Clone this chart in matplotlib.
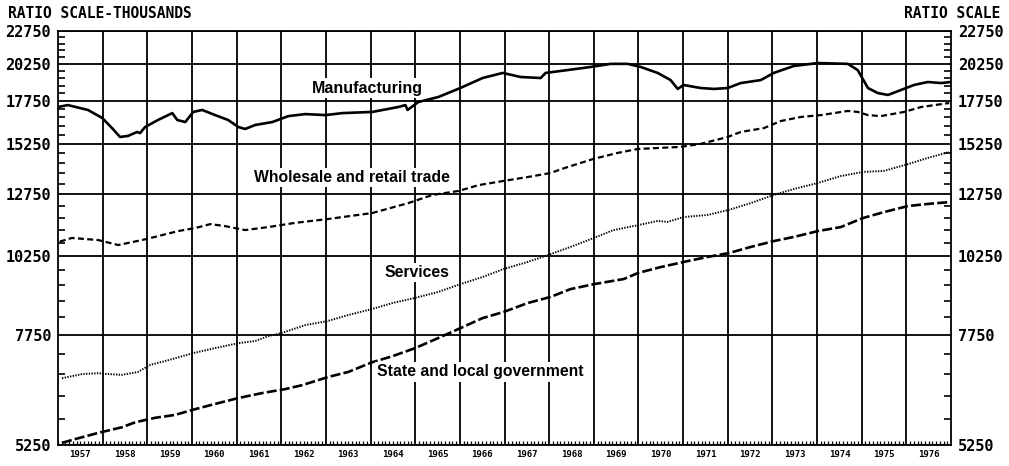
#Employment by industry, ratio scale, 1957-1976
import numpy as np
import matplotlib
matplotlib.use("Agg")
import matplotlib.pyplot as plt
from matplotlib.ticker import FixedLocator, FixedFormatter, NullFormatter

#Data (year, value)
mfg_years = [1957.04, 1957.22, 1957.67, 1957.99, 1958.21, 1958.39, 1958.57, 1958.77, 1958.84, 1958.95,
             1959.24, 1959.56, 1959.67, 1959.85, 1960.03, 1960.23, 1960.52, 1960.81, 1961.04, 1961.19,
             1961.42, 1961.80, 1962.16, 1962.54, 1962.99, 1963.37, 1964.04, 1964.62, 1964.78, 1964.83,
             1965.07, 1965.52, 1966.01, 1966.51, 1966.96, 1967.36, 1967.81, 1967.92, 1968.41, 1968.93,
             1969.38, 1969.76, 1970.05, 1970.43, 1970.72, 1970.88, 1971.01, 1971.39, 1971.69, 1972.00,
             1972.29, 1972.74, 1973.03, 1973.48, 1974.02, 1974.69, 1974.91, 1975.14, 1975.36, 1975.59,
             1975.88, 1976.17, 1976.48, 1976.78, 1977.00]
mfg_vals = [17400, 17500, 17200, 16720, 16130, 15630, 15690, 15910, 15850, 16190,
            16600, 17010, 16600, 16480, 17080, 17200, 16890, 16600, 16190, 16080,
            16310, 16480, 16830, 16950, 16890, 17010, 17080, 17380, 17500, 17200,
            17690, 18010, 18590, 19260, 19610, 19330, 19260, 19610, 19810, 20030,
            20250, 20250, 20030, 19610, 19120, 18530, 18790, 18590, 18530, 18590,
            18920, 19120, 19610, 20100, 20310, 20250, 19810, 18590, 18260, 18140,
            18460, 18790, 18990, 18920, 18990]

trade_years = [1957.04, 1957.31, 1957.90, 1958.35, 1958.88, 1959.17, 1959.69, 1960.07, 1960.41, 1960.74,
               1961.19, 1961.71, 1962.31, 1963.05, 1964.04, 1964.85, 1965.39, 1965.97, 1966.42, 1966.96,
               1967.65, 1968.03, 1968.41, 1968.99, 1969.53, 1969.98, 1970.94, 1971.39, 1972.00, 1972.29,
               1972.81, 1973.19, 1973.64, 1974.09, 1974.69, 1974.91, 1975.14, 1975.43, 1975.95, 1976.33,
               1976.96]
trade_vals = [10790, 10930, 10850, 10660, 10850, 10970, 11200, 11320, 11480, 11400,
              11240, 11360, 11530, 11690, 11940, 12370, 12730, 12910, 13180, 13370,
              13610, 13760, 14050, 14460, 14770, 14980, 15090, 15250, 15630, 15910,
              16130, 16540, 16780, 16890, 17140, 17080, 16890, 16830, 17080, 17380,
              17630]

serv_years = [1957.09, 1957.54, 1957.90, 1958.12, 1958.43, 1958.79, 1959.06, 1959.47, 1960.03, 1960.52,
              1961.04, 1961.42, 1961.71, 1962.02, 1962.54, 1963.03, 1963.50, 1964.04, 1964.49, 1965.00,
              1965.52, 1966.01, 1966.51, 1966.98, 1967.52, 1968.03, 1968.48, 1969.00, 1969.44, 1970.00,
              1970.43, 1970.65, 1971.01, 1971.55, 1972.02, 1972.52, 1973.03, 1973.48, 1974.02, 1974.53,
              1975.03, 1975.50, 1976.04, 1976.48, 1976.96]
serv_vals = [6650, 6750, 6770, 6750, 6730, 6800, 6970, 7090, 7270, 7400,
             7530, 7590, 7720, 7810, 8030, 8140, 8320, 8500, 8680, 8840,
             9030, 9280, 9520, 9790, 10040, 10320, 10590, 10930, 11240, 11440,
             11610, 11570, 11770, 11860, 12070, 12370, 12730, 13000, 13280, 13610,
             13810, 13860, 14200, 14510, 14820]

govt_years = [1957.09, 1957.38, 1957.90, 1958.43, 1958.73, 1959.17, 1959.62, 1960.07, 1960.59, 1961.04,
              1961.57, 1962.09, 1962.47, 1963.05, 1963.50, 1964.04, 1964.49, 1965.00, 1965.52, 1966.01,
              1966.51, 1966.98, 1967.52, 1968.03, 1968.48, 1969.00, 1969.67, 1970.00, 1970.50, 1971.10,
              1971.55, 1972.02, 1972.52, 1973.03, 1973.48, 1974.02, 1974.53, 1975.03, 1975.50, 1976.04,
              1976.48, 1976.96]
govt_vals = [5290, 5360, 5480, 5590, 5690, 5780, 5840, 5960, 6090, 6200,
             6310, 6400, 6490, 6680, 6800, 7040, 7190, 7400, 7670, 7940,
             8230, 8410, 8680, 8870, 9120, 9280, 9450, 9660, 9860, 10070,
             10220, 10360, 10590, 10810, 10970, 11200, 11360, 11730, 11980, 12240,
             12330, 12410]

yticks = [5250, 7750, 10250, 12750, 15250, 17750, 20250, 22750]
years = list(range(1957, 1977))

mono = "DejaVu Sans Mono"
sans = "Liberation Sans"

fig = plt.figure(figsize=(10.09, 4.66), dpi=100)
ax = fig.add_axes([58/1009, 1-445/466, (951-58)/1009, (445-31)/466])

ax.plot(mfg_years, mfg_vals, color="black", lw=1.9, solid_joinstyle="round")
ax.plot(trade_years, trade_vals, color="black", lw=1.6, dashes=(2.7, 1.5))
ax.plot(serv_years, serv_vals, color="black", lw=1.4, dashes=(0.7, 0.7))
ax.plot(govt_years, govt_vals, color="black", lw=1.9, dashes=(3.8, 1.2))

#Ratio scale
ax.set_yscale("log")
ax.set_ylim(5250, 22750)
ax.set_xlim(1957, 1977)
ax.yaxis.set_major_locator(FixedLocator(yticks))
ax.yaxis.set_major_formatter(FixedFormatter([str(t) for t in yticks]))
minor_y = [v for v in range(5250, 22751, 500) if v not in yticks]
ax.yaxis.set_minor_locator(FixedLocator(minor_y))
ax.yaxis.set_minor_formatter(NullFormatter())

ax.xaxis.set_major_locator(FixedLocator(years[1:]))
ax.xaxis.set_major_formatter(NullFormatter())
ax.xaxis.set_minor_locator(FixedLocator(np.arange(1957, 1977, 1/12)))

ax.grid(True, which="major", color="black", lw=1.3)
ax.tick_params(axis="y", which="major", length=0, labelsize=11, pad=5,
               left=True, right=True, labelleft=True, labelright=True)
ax.tick_params(axis="y", which="minor", direction="in", length=5, width=1.2,
               left=True, right=True)
ax.tick_params(axis="x", which="major", length=0)
ax.tick_params(axis="x", which="minor", direction="in", length=3, width=0.9)
for lab in ax.get_yticklabels():
    lab.set_fontfamily(mono)
    lab.set_fontweight("bold")
for s in ax.spines.values():
    s.set_linewidth(1.3)

#year labels centred in each year
for y in years:
    ax.text(y + 0.5, -0.012, str(y), transform=ax.get_xaxis_transform(),
            ha="center", va="top", fontsize=6.5, family=mono, fontweight="bold")

#series names, white box hides the grid behind them
box = dict(facecolor="white", edgecolor="none", pad=1.5)
ax.text(1963.93, 18590, "Manufacturing", ha="center", va="center", fontsize=11.5,
        family=sans, fontweight="bold", bbox=box, zorder=5)
ax.text(1963.59, 13520, "Wholesale and retail trade", ha="center", va="center", fontsize=11.3,
        family=sans, fontweight="bold", bbox=box, zorder=5)
ax.text(1965.05, 9660, "Services", ha="center", va="center", fontsize=11.3,
        family=sans, fontweight="bold", bbox=box, zorder=5)
ax.text(1966.46, 6800, "State and local government", ha="center", va="center", fontsize=11.3,
        family=sans, fontweight="bold", bbox=box, zorder=5)

fig.text(8/1009, 1-13.5/466, "RATIO SCALE-THOUSANDS", ha="left", va="center", fontsize=10.5, family=mono, fontweight="bold")
fig.text(1000/1009, 1-13.5/466, "RATIO SCALE", ha="right", va="center", fontsize=10.5, family=mono, fontweight="bold")

fig.savefig("out.png", dpi=100)
